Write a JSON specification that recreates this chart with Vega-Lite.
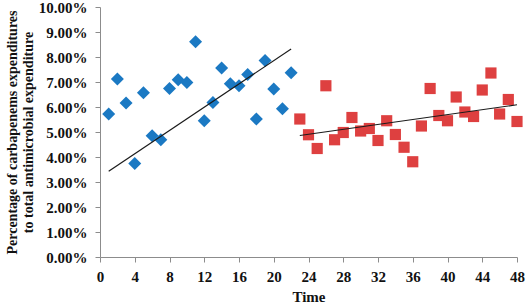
{
  "$schema": "https://vega.github.io/schema/vega-lite/v6.json",
  "width": 417,
  "height": 250,
  "autosize": {"type": "none"},
  "padding": {"left": 100, "top": 7, "right": 9, "bottom": 49},
  "background": "white",
  "config": {
    "view": {"stroke": null},
    "font": "Liberation Serif",
    "axis": {
      "grid": false,
      "domainColor": "#8c8c8c",
      "tickColor": "#8c8c8c",
      "labelFont": "Liberation Serif",
      "labelFontWeight": "bold",
      "labelFontSize": 15,
      "labelColor": "#111111",
      "titleFont": "Liberation Serif",
      "titleFontWeight": "bold",
      "titleColor": "#111111"
    }
  },
  "datasets": {
    "points": [
      {"t": 1, "value": 0.0572, "period": "pre"},
      {"t": 2, "value": 0.0712, "period": "pre"},
      {"t": 3, "value": 0.0616, "period": "pre"},
      {"t": 4, "value": 0.0374, "period": "pre"},
      {"t": 5, "value": 0.0657, "period": "pre"},
      {"t": 6, "value": 0.0485, "period": "pre"},
      {"t": 7, "value": 0.0469, "period": "pre"},
      {"t": 8, "value": 0.0674, "period": "pre"},
      {"t": 9, "value": 0.0709, "period": "pre"},
      {"t": 10, "value": 0.0698, "period": "pre"},
      {"t": 11, "value": 0.0861, "period": "pre"},
      {"t": 12, "value": 0.0545, "period": "pre"},
      {"t": 13, "value": 0.0618, "period": "pre"},
      {"t": 14, "value": 0.0756, "period": "pre"},
      {"t": 15, "value": 0.0693, "period": "pre"},
      {"t": 16, "value": 0.0685, "period": "pre"},
      {"t": 17, "value": 0.0730, "period": "pre"},
      {"t": 18, "value": 0.0552, "period": "pre"},
      {"t": 19, "value": 0.0786, "period": "pre"},
      {"t": 20, "value": 0.0672, "period": "pre"},
      {"t": 21, "value": 0.0593, "period": "pre"},
      {"t": 22, "value": 0.0737, "period": "pre"},
      {"t": 23, "value": 0.0552, "period": "post"},
      {"t": 24, "value": 0.0489, "period": "post"},
      {"t": 25, "value": 0.0434, "period": "post"},
      {"t": 26, "value": 0.0685, "period": "post"},
      {"t": 27, "value": 0.0469, "period": "post"},
      {"t": 28, "value": 0.0498, "period": "post"},
      {"t": 29, "value": 0.0558, "period": "post"},
      {"t": 30, "value": 0.0504, "period": "post"},
      {"t": 31, "value": 0.0514, "period": "post"},
      {"t": 32, "value": 0.0466, "period": "post"},
      {"t": 33, "value": 0.0545, "period": "post"},
      {"t": 34, "value": 0.0490, "period": "post"},
      {"t": 35, "value": 0.0439, "period": "post"},
      {"t": 36, "value": 0.0381, "period": "post"},
      {"t": 37, "value": 0.0524, "period": "post"},
      {"t": 38, "value": 0.0674, "period": "post"},
      {"t": 39, "value": 0.0566, "period": "post"},
      {"t": 40, "value": 0.0545, "period": "post"},
      {"t": 41, "value": 0.0640, "period": "post"},
      {"t": 42, "value": 0.0580, "period": "post"},
      {"t": 43, "value": 0.0562, "period": "post"},
      {"t": 44, "value": 0.0668, "period": "post"},
      {"t": 45, "value": 0.0736, "period": "post"},
      {"t": 46, "value": 0.0572, "period": "post"},
      {"t": 47, "value": 0.0630, "period": "post"},
      {"t": 48, "value": 0.0542, "period": "post"}
    ],
    "trend": [
      {"t": 1, "value": 0.0343, "period": "pre"},
      {"t": 22, "value": 0.0832, "period": "pre"},
      {"t": 23, "value": 0.0486, "period": "post"},
      {"t": 48, "value": 0.0609, "period": "post"}
    ]
  },
  "encoding": {
    "x": {
      "field": "t",
      "type": "quantitative",
      "scale": {"domain": [0, 48], "nice": false, "zero": false},
      "axis": {
        "values": [0, 4, 8, 12, 16, 20, 24, 28, 32, 36, 40, 44, 48],
        "title": "Time",
        "titleFont": "Liberation Serif",
        "titleFontSize": 15,
        "titlePadding": 5,
        "labelFont": "Liberation Serif",
        "labelFontWeight": "bold",
        "labelFontSize": 15,
        "tickSize": 5,
        "labelPadding": 7,
        "labelFlush": false
      }
    },
    "y": {
      "field": "value",
      "type": "quantitative",
      "scale": {"domain": [0, 0.1], "nice": false},
      "axis": {
        "values": [0, 0.01, 0.02, 0.03, 0.04, 0.05, 0.06, 0.07, 0.08, 0.09, 0.1],
        "format": ".2%",
        "title": ["Percentage of carbapenems expenditures", "to total antimicrobial expenditure"],
        "titleFont": "Liberation Serif",
        "titleFontSize": 14,
        "titleLineHeight": 16,
        "titlePadding": 3,
        "labelFont": "Liberation Serif",
        "labelFontWeight": "bold",
        "labelFontSize": 15,
        "tickSize": 5,
        "labelPadding": 8,
        "labelFlush": false
      }
    }
  },
  "layer": [
    {
      "data": {"name": "points"},
      "mark": {"type": "point", "filled": true, "opacity": 1, "strokeWidth": 1},
      "encoding": {
        "shape": {
          "field": "period",
          "type": "nominal",
          "scale": {"domain": ["pre", "post"], "range": ["diamond", "square"]},
          "legend": null
        },
        "color": {
          "field": "period",
          "type": "nominal",
          "scale": {"domain": ["pre", "post"], "range": ["#1b79c3", "#de4040"]},
          "legend": null
        },
        "size": {
          "field": "period",
          "type": "nominal",
          "scale": {"domain": ["pre", "post"], "range": [170, 125]},
          "legend": null
        }
      }
    },
    {
      "data": {"name": "trend"},
      "mark": {"type": "line", "color": "#1a1a1a", "strokeWidth": 1.2},
      "encoding": {
        "detail": {"field": "period", "type": "nominal"}
      }
    }
  ]
}
